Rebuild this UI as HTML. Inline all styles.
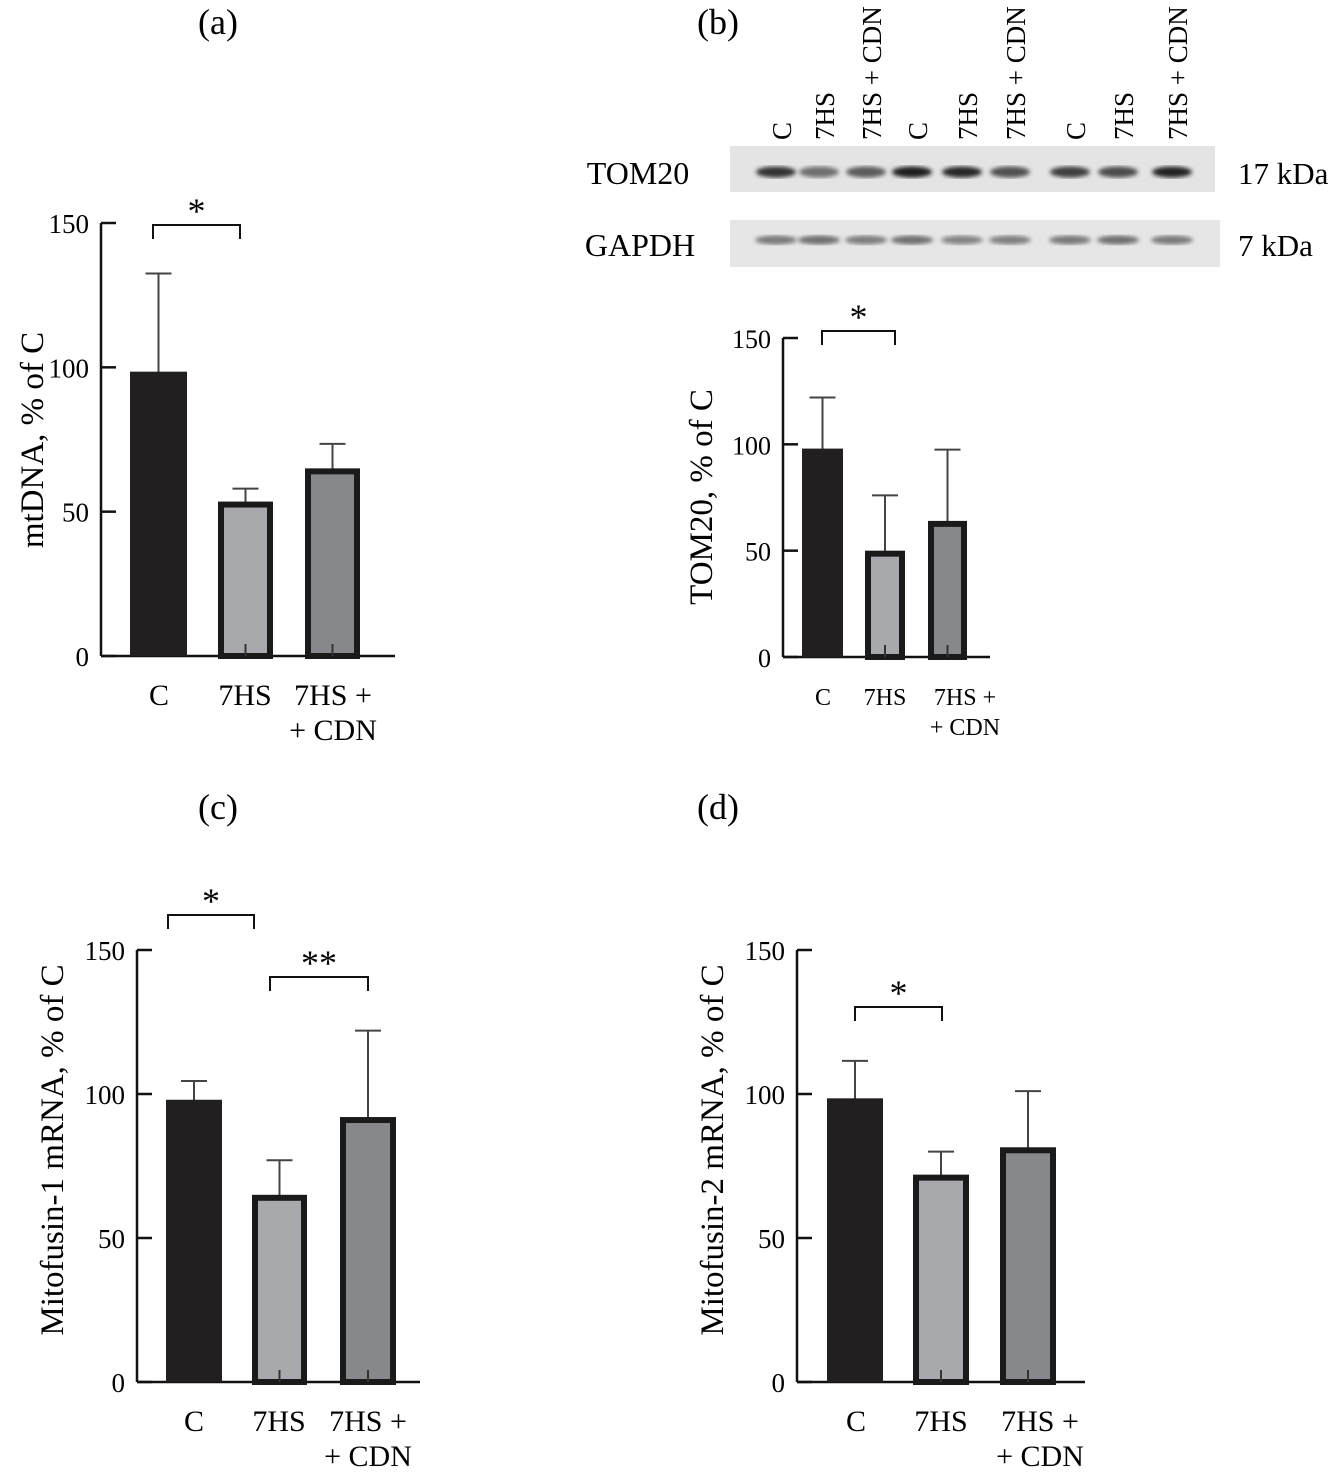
<!DOCTYPE html>
<html><head><meta charset="utf-8"><style>
html,body{margin:0;padding:0;background:#fff;}
svg{display:block;font-family:"Liberation Serif",serif;}
</style></head><body>
<svg id="fig" width="1332" height="1474" viewBox="0 0 1332 1474">
<text x="218" y="34" font-size="36" text-anchor="middle">(a)</text>
<text x="718" y="34" font-size="36" text-anchor="middle">(b)</text>
<text x="218" y="819" font-size="36" text-anchor="middle">(c)</text>
<text x="718" y="819" font-size="36" text-anchor="middle">(d)</text>
<g id="blot">
<defs><filter id="bl"><feGaussianBlur stdDeviation="2.2"/></filter></defs>
<rect x="730" y="146" width="485" height="46" fill="#e4e4e4"/>
<rect x="730" y="220" width="490" height="47" fill="#e6e6e6"/>
<text x="638" y="184" font-size="32" text-anchor="middle">TOM20</text>
<text x="640" y="256" font-size="32" text-anchor="middle">GAPDH</text>
<text x="1238" y="184" font-size="31">17 kDa</text>
<text x="1238" y="256" font-size="31">7 kDa</text>
</g>
</svg>
<script>
// Lane data
const laneLabels = ["C","7HS","7HS + CDN","C","7HS","7HS + CDN","C","7HS","7HS + CDN"];
const tomIntensity = [0.85,0.55,0.65,0.95,0.9,0.7,0.8,0.72,0.92];
const gapdhIntensity = [0.5,0.55,0.48,0.55,0.45,0.47,0.5,0.55,0.5];

// Panel data
const categories = ["C","7HS","7HS +|+ CDN"];
const aMeans = [98.5,53.5,65];
const aErr = [132.5,58,73.5];
const bMeans = [98,50,64];
const bErr = [122,76,97.5];
const cMeans = [98,65,92];
const cErr = [104.5,77,122];
const dMeans = [98.5,72,81.5];
const dErr = [111.5,80,101];
const yTicks = [0,50,100,150];

const NS="http://www.w3.org/2000/svg";
const svg=document.getElementById('fig');
function mk(tag,attrs,parent){const e=document.createElementNS(NS,tag);for(const k in attrs)e.setAttribute(k,attrs[k]);(parent||svg).appendChild(e);return e;}

const blot=document.getElementById('blot');
const laneX=[782,825,872,918,968,1016,1076,1124,1178];
laneLabels.forEach((l,i)=>{
  const t=mk('text',{x:0,y:0,'font-size':27,transform:`translate(${laneX[i]+9},${140}) rotate(-90)`},blot);
  
  
  t.textContent=l;
  const g=Math.round(220-200*tomIntensity[i]);
  const b1=mk('ellipse',{cx:laneX[i]-6,cy:172,rx:20,ry:5.5,fill:`rgb(${g},${g},${g})`,filter:'url(#bl)'},blot);
  
  
  const g2=Math.round(220-200*gapdhIntensity[i]);
  const b2=mk('ellipse',{cx:laneX[i]-6,cy:240,rx:21,ry:4.5,fill:`rgb(${g2},${g2},${g2})`,filter:'url(#bl)'},blot);
  
  
});

function panel(o){
  const g=mk('g',{});
  
  
  const y=v=>o.y0-(o.y0-o.y150)*v/150;
  mk('line',{x1:o.ax,y1:o.y150,x2:o.ax,y2:o.y0,stroke:'#111','stroke-width':2.5},g);
  const xa=mk('line',{x1:o.ax,y1:o.y0,x2:o.axEnd,y2:o.y0,stroke:'#111','stroke-width':2.5},g);
  
  
  yTicks.forEach(v=>{
    mk('line',{x1:o.ax,y1:y(v),x2:o.ax+15,y2:y(v),stroke:'#111','stroke-width':2.5},g);
    const t=mk('text',{x:o.ax-12,y:y(v)+10,'font-size':o.fs,'text-anchor':'end'},g);
    
    
    t.textContent=v;
  });
  const fills=['#211f20','#a7a9ac','#87888b'];
  o.means.forEach((m,i)=>{
    const [l,r]=o.bars[i];const cx=(l+r)/2;
    const top=y(o.err[i]);
    const el=mk('line',{x1:cx,y1:top,x2:cx,y2:y(m)+4,stroke:'#444','stroke-width':2},g);
    
    
    mk('line',{x1:cx-13,y1:top,x2:cx+13,y2:top,stroke:'#444','stroke-width':2},g);
    let rc;
    if(i===0){rc=mk('rect',{x:l,y:y(m),width:r-l,height:o.y0-y(m),fill:fills[0]},g);}
    else{rc=mk('rect',{x:l+3,y:y(m)+3,width:r-l-6,height:o.y0-y(m)-3,fill:fills[i],stroke:'#1a1a1a','stroke-width':6},g);
      mk('line',{x1:cx,y1:o.y0-12,x2:cx,y2:o.y0,stroke:'#333','stroke-width':2},g);}
    
    
    const parts=categories[i].split('|');
    parts.forEach((p,j)=>{
      const t=mk('text',{x:o.lx[i],y:o.ly+j*o.lh,'font-size':o.lfs,'text-anchor':'middle'},g);
      
      
      t.textContent=p;
    });
  });
  o.brackets.forEach(b=>{
    const p=mk('path',{d:`M${b[0]},${b[2]+14} V${b[2]} H${b[1]} V${b[2]+14}`,fill:'none',stroke:'#111','stroke-width':2},g);
    
    
    const t=mk('text',{x:(b[0]+b[1])/2,y:b[2]-2,'font-size':36,'text-anchor':'middle'},g);
    
    
    t.textContent=b[3];
  });
  const yt=mk('text',{x:0,y:0,'font-size':o.tfs,'text-anchor':'middle',transform:`translate(${o.tx},${o.ty}) rotate(-90)`},g);
  
  
  yt.textContent=o.title;
}

panel({name:'panel-a-chart',ax:101,axEnd:395,y150:223,y0:656,means:aMeans,err:aErr,
 bars:[[130,187],[218,273],[305,360]],lx:[159,245,333],ly:705,lh:35,lfs:30,fs:27,
 brackets:[[153,240,225,'*']],title:'mtDNA, % of C',tx:43,ty:440,tfs:33});
panel({name:'panel-b-chart',ax:783,axEnd:990,y150:338,y0:657,means:bMeans,err:bErr,
 bars:[[802,843],[865,905],[928,967]],lx:[823,885,965],ly:705,lh:30,lfs:24,fs:26,
 brackets:[[822,895,331,'*']],title:'TOM20, % of C',tx:712,ty:497,tfs:33});
panel({name:'panel-c-chart',ax:137,axEnd:420,y150:950,y0:1382,means:cMeans,err:cErr,
 bars:[[166,222],[252,307],[340,396]],lx:[194,279,368],ly:1431,lh:35,lfs:30,fs:27,
 brackets:[[168,254,915,'*'],[270,368,977,'**']],title:'Mitofusin-1 mRNA, % of C',tx:63,ty:1150,tfs:33});
panel({name:'panel-d-chart',ax:797,axEnd:1085,y150:950,y0:1382,means:dMeans,err:dErr,
 bars:[[827,883],[913,969],[1000,1056]],lx:[856,941,1040],ly:1431,lh:35,lfs:30,fs:27,
 brackets:[[855,942,1007,'*']],title:'Mitofusin-2 mRNA, % of C',tx:723,ty:1150,tfs:33});
</script>
</body></html>
